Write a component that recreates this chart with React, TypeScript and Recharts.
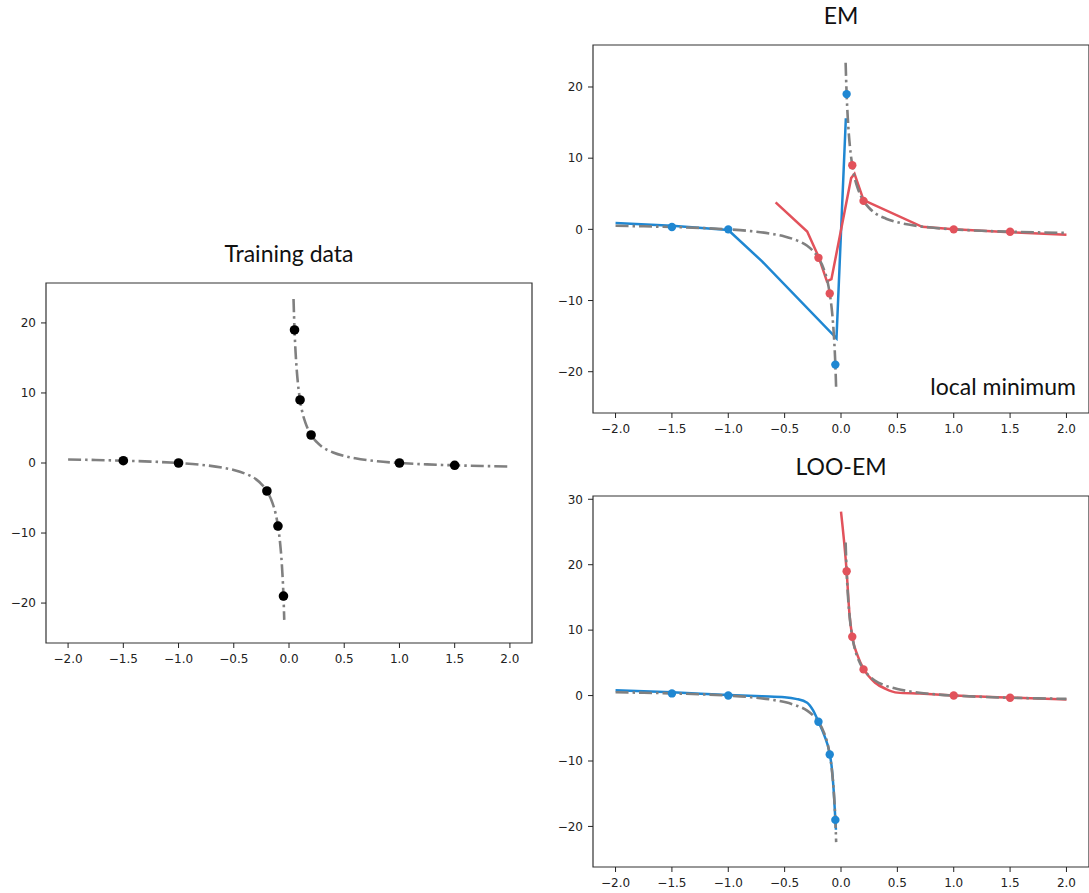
import React from "react";
import { ComposedChart, Line, Scatter, XAxis, YAxis, ReferenceArea } from "recharts";

// axis ticks
const xTicks = [-2, -1.5, -1, -0.5, 0, 0.5, 1, 1.5, 2];
const yTicks = [-20, -10, 0, 10, 20];
const yTicksLoo = [-20, -10, 0, 10, 20, 30];

// dash-dot reference curve (two branches)
const truthLeftX = [-2, -1.75, -1.5, -1.25, -1, -0.8, -0.6, -0.5, -0.4, -0.3, -0.25, -0.2, -0.15, -0.12, -0.1, -0.08, -0.07, -0.06, -0.05, -0.043];
const truthLeftY = [0.5, 0.43, 0.33, 0.2, 0, -0.25, -0.67, -1, -1.5, -2.3, -3, -4, -5.7, -7.3, -9, -11.5, -13.3, -15.7, -19, -22.4];
const truthRightX = [0.041, 0.05, 0.06, 0.07, 0.08, 0.1, 0.12, 0.15, 0.2, 0.25, 0.3, 0.4, 0.5, 0.6, 0.8, 1, 1.25, 1.5, 1.75, 2];
const truthRightY = [23.4, 19, 15.7, 13.3, 11.5, 9, 7.3, 5.7, 4, 3, 2.3, 1.5, 1, 0.67, 0.25, 0, -0.2, -0.33, -0.43, -0.5];

// training points
const trainX = [-1.5, -1, -0.2, -0.1, -0.05, 0.05, 0.1, 0.2, 1, 1.5];
const trainY = [0.33, 0, -4, -9, -19, 19, 9, 4, 0, -0.33];

// EM
const emBlueDotX = [-1.5, -1, -0.05, 0.05];
const emBlueDotY = [0.33, 0, -19, 19];
const emRedDotX = [-0.2, -0.1, 0.1, 0.2, 1, 1.5];
const emRedDotY = [-4, -9, 9, 4, 0, -0.33];
const emBlueLineX = [-2, -1.5, -1, -0.7, -0.04, 0.043];
const emBlueLineY = [0.9, 0.5, -0.1, -4.5, -15.3, 15.6];
const emRedLineX = [-0.58, -0.3, -0.2, -0.125, -0.085, 0.09, 0.12, 0.2, 0.72, 1, 1.5, 2];
const emRedLineY = [3.8, -0.3, -3.8, -7.3, -7.0, 7.2, 7.8, 4.1, 0.35, 0, -0.4, -0.75];

// LOO-EM
const looBlueDotX = [-1.5, -1, -0.2, -0.1, -0.05];
const looBlueDotY = [0.33, 0, -4, -9, -19];
const looRedDotX = [0.05, 0.1, 0.2, 1, 1.5];
const looRedDotY = [19, 9, 4, 0, -0.33];
const looBlueLineX = [-2, -1.5, -1, -0.7, -0.5, -0.4, -0.3, -0.25, -0.2, -0.15, -0.1, -0.08, -0.065, -0.05, -0.045];
const looBlueLineY = [0.8, 0.5, 0.1, -0.1, -0.25, -0.5, -1.1, -2.2, -4.0, -6.0, -8.9, -11.3, -14.5, -19, -20.5];
const looRedLineX = [0.0, 0.05, 0.075, 0.1, 0.15, 0.2, 0.3, 0.4, 0.5, 0.7, 1, 1.5, 2];
const looRedLineY = [28.1, 19, 12.5, 9, 6.0, 4.1, 2.0, 1.0, 0.45, 0.3, 0, -0.3, -0.6];

const BLUE = "#1f87d2";
const RED = "#e2525b";
const GRAY = "#808080";
const BLACK = "#000000";

const pts = (xs: number[], ys: number[]) => xs.map((x, i) => ({ x, y: ys[i] }));

const minus = (s: string) => s.replace("-", "\u2212");
const fmtX = (v: number) => minus(v.toFixed(1));
const fmtY = (v: number) => minus(String(v));

const tickStyle = { fontSize: 12, fontFamily: "DejaVu Sans", fill: "#222" };

const dot = (color: string, r: number) => (props: any) =>
  <circle cx={props.cx} cy={props.cy} r={r} fill={color} />;

type LineDef = { xs: number[]; ys: number[]; color: string; curve: "linear" | "monotone" };
type DotDef = { xs: number[]; ys: number[]; color: string };

function Panel(props: {
  x: number; y: number; w: number; h: number;
  yDomain: number[]; yTicks: number[];
  lines: LineDef[]; dots: DotDef[]; r: number;
}) {
  const { x, y, w, h, yDomain, lines, dots, r } = props;
  const yw = 46;
  const mt = 13;
  return (
    <div style={{ position: "absolute", left: x - yw, top: y - mt }}>
      <ComposedChart
        width={yw + w + 2}
        height={mt + h + 26}
        margin={{ top: mt, right: 2, bottom: 0, left: 0 }}
      >
        <XAxis
          type="number"
          dataKey="x"
          domain={[-2.2, 2.2]}
          ticks={xTicks}
          interval={0}
          tickFormatter={fmtX}
          axisLine={false}
          tickLine={{ stroke: "#222" }}
          tickSize={5}
          tickMargin={6}
          tick={tickStyle}
          height={26}
          allowDataOverflow
        />
        <YAxis
          type="number"
          dataKey="y"
          domain={yDomain}
          ticks={props.yTicks}
          interval={0}
          tickFormatter={fmtY}
          axisLine={false}
          tickLine={{ stroke: "#222" }}
          tickSize={5}
          tickMargin={5}
          tick={tickStyle}
          width={yw}
          allowDataOverflow
        />
        <ReferenceArea
          x1={-2.2}
          x2={2.2}
          y1={yDomain[0]}
          y2={yDomain[1]}
          fill="none"
          stroke="#333"
          strokeWidth={1.2}
          ifOverflow="visible"
        />
        {lines.map((l, i) => (
          <Line
            key={"l" + i}
            data={pts(l.xs, l.ys)}
            dataKey="y"
            type={l.curve}
            stroke={l.color}
            strokeWidth={2.5}
            dot={false}
            activeDot={false}
            isAnimationActive={false}
          />
        ))}
        <Line
          data={pts(truthLeftX, truthLeftY)}
          dataKey="y"
          type="monotone"
          stroke={GRAY}
          strokeWidth={2.6}
          strokeDasharray="13 4 2.5 4"
          dot={false}
          activeDot={false}
          isAnimationActive={false}
        />
        <Line
          data={pts(truthRightX, truthRightY)}
          dataKey="y"
          type="monotone"
          stroke={GRAY}
          strokeWidth={2.6}
          strokeDasharray="13 4 2.5 4"
          dot={false}
          activeDot={false}
          isAnimationActive={false}
        />
        {dots.map((d, i) => (
          <Scatter
            key={"d" + i}
            data={pts(d.xs, d.ys)}
            dataKey="y"
            fill={d.color}
            shape={dot(d.color, r)}
            isAnimationActive={false}
          />
        ))}
      </ComposedChart>
    </div>
  );
}

export default function App() {
  return (
    <div
      style={{
        position: "absolute",
        left: 0,
        top: 0,
        width: 1089,
        height: 893,
        overflow: "hidden",
        background: "#fff",
      }}
    >
      <Panel
        x={46} y={283} w={486} h={360}
        yDomain={[-25.7, 25.7]} yTicks={yTicks}
        lines={[]}
        dots={[{ xs: trainX, ys: trainY, color: BLACK }]}
        r={4.8}
      />
      <Panel
        x={593} y={45} w={496} h={368}
        yDomain={[-25.8, 25.9]} yTicks={yTicks}
        lines={[
          { xs: emBlueLineX, ys: emBlueLineY, color: BLUE, curve: "linear" },
          { xs: emRedLineX, ys: emRedLineY, color: RED, curve: "linear" },
        ]}
        dots={[
          { xs: emBlueDotX, ys: emBlueDotY, color: BLUE },
          { xs: emRedDotX, ys: emRedDotY, color: RED },
        ]}
        r={4.2}
      />
      <Panel
        x={593} y={496} w={496} h={371}
        yDomain={[-26.2, 30.5]} yTicks={yTicksLoo}
        lines={[
          { xs: looBlueLineX, ys: looBlueLineY, color: BLUE, curve: "monotone" },
          { xs: looRedLineX, ys: looRedLineY, color: RED, curve: "monotone" },
        ]}
        dots={[
          { xs: looBlueDotX, ys: looBlueDotY, color: BLUE },
          { xs: looRedDotX, ys: looRedDotY, color: RED },
        ]}
        r={4.2}
      />
      <svg
        width={1089}
        height={893}
        style={{ position: "absolute", left: 0, top: 0, pointerEvents: "none" }}
        fontFamily="Lato"
        fontSize={23}
        fill="#111"
      >
        <text x={289} y={262} textAnchor="middle">Training data</text>
        <text x={841} y={24} textAnchor="middle">EM</text>
        <text x={841} y={475} textAnchor="middle">LOO-EM</text>
        <text x={1076} y={395} textAnchor="end">local minimum</text>
      </svg>
    </div>
  );
}
